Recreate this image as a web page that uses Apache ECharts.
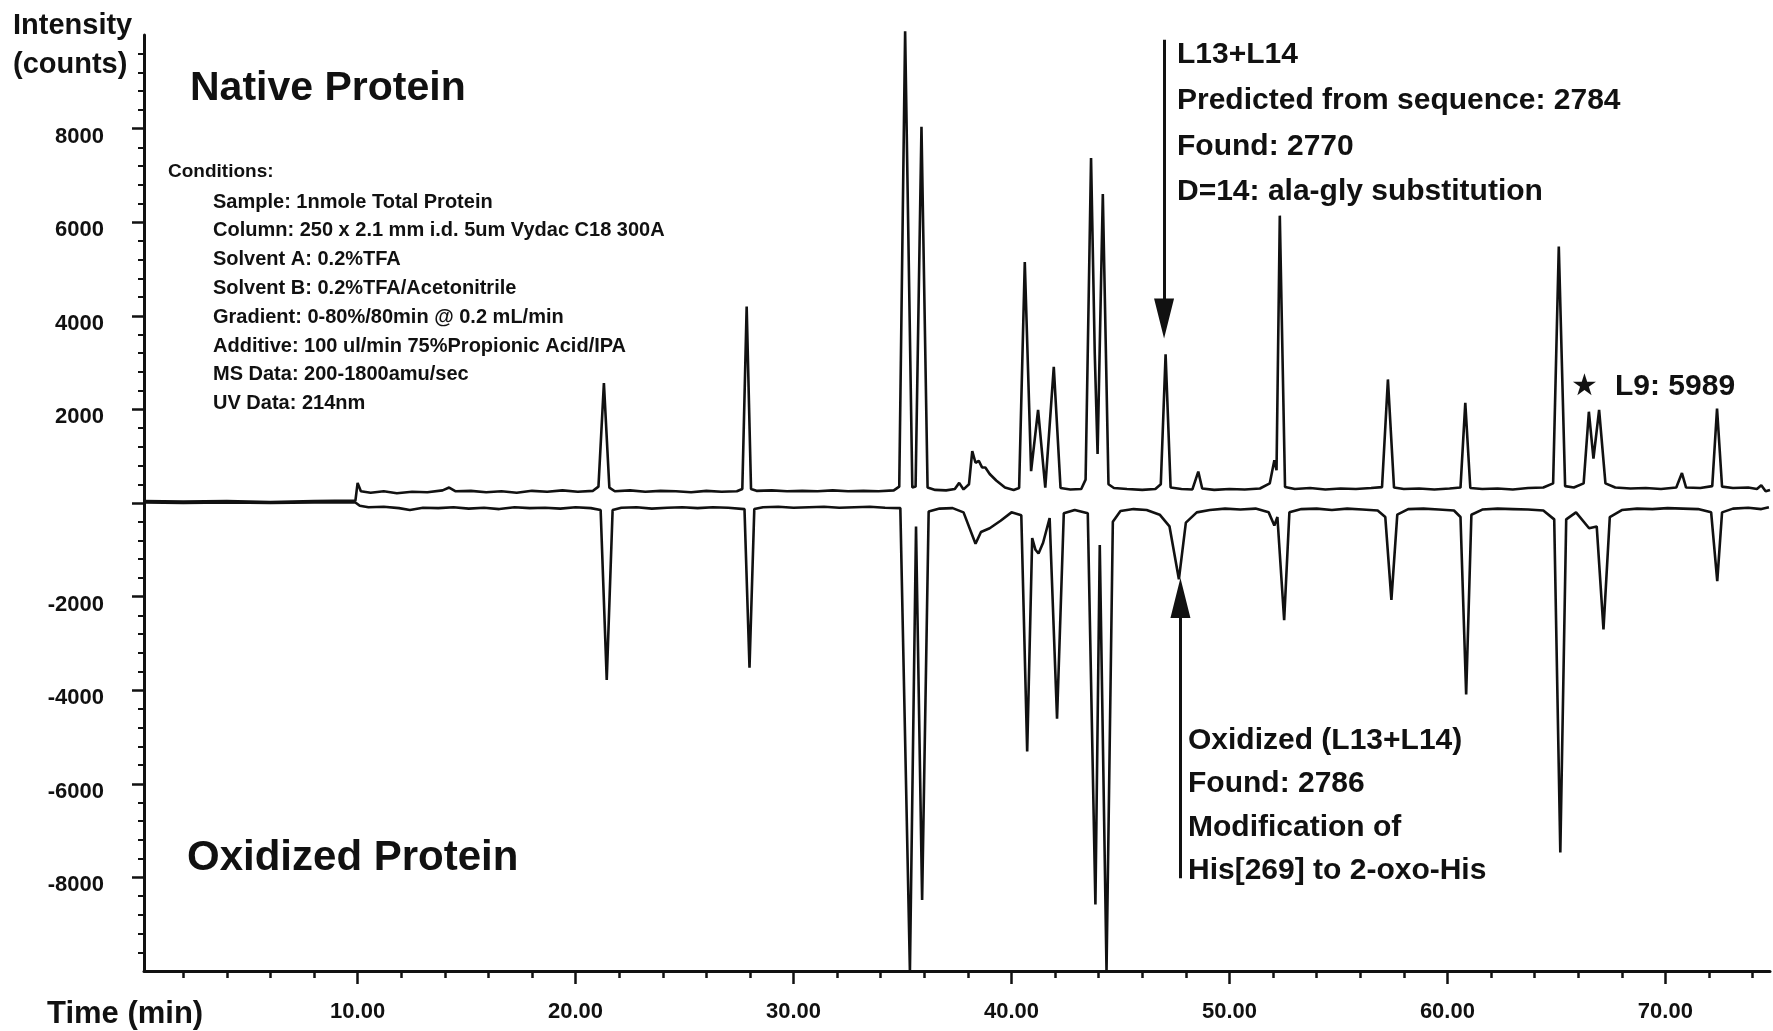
<!DOCTYPE html>
<html lang="en">
<head>
    <meta charset="UTF-8">
    <title>Native vs Oxidized Protein - LC/MS</title>
    <script src="https://cdn.jsdelivr.net/npm/echarts@6/dist/echarts.min.js"></script>
    <style>
        html, body { margin: 0; padding: 0; background: #ffffff; }
        #chart { width: 1773px; height: 1031px; }
    </style>
</head>
<body>
    <div id="chart"></div>
    <script>
        // time (min), intensity (counts)
        let nativeTrace = [
            [0.2, 40], [2, 30], [4, 40], [6, 20], [8, 40], [9.9, 50],
            [10.0, 430], [10.15, 250], [10.6, 220], [11.2, 250], [11.8, 210], [12.5, 240], [13.2, 230],
            [13.9, 270], [14.2, 330], [14.5, 250], [15.2, 260], [15.9, 230], [16.6, 250], [17.3, 220],
            [18.0, 260], [18.7, 240], [19.4, 270], [20.1, 240], [20.8, 260], [21.05, 350], [21.3, 2560],
            [21.55, 330], [21.8, 250], [22.5, 270], [23.2, 240], [23.9, 260], [24.6, 250], [25.3, 230],
            [26.0, 260], [26.7, 240], [27.4, 250], [27.65, 300], [27.85, 4200], [28.05, 300], [28.3, 260],
            [29.0, 270], [29.7, 250], [30.4, 260], [31.1, 250], [31.8, 270], [32.5, 250], [33.2, 260],
            [33.9, 250], [34.6, 270], [34.85, 350], [35.12, 10080], [35.45, 330], [35.6, 350], [35.87, 8040],
            [36.15, 330], [36.5, 280], [37.0, 270], [37.4, 300], [37.6, 430], [37.8, 290], [38.05, 400],
            [38.2, 1110], [38.35, 860], [38.5, 900], [38.65, 760], [38.8, 760], [39.0, 620], [39.3, 480],
            [39.7, 330], [40.1, 280], [40.35, 320], [40.61, 5150], [40.9, 680], [41.22, 1990], [41.55, 330],
            [41.94, 2910], [42.25, 320], [42.7, 290], [43.2, 300], [43.4, 500], [43.65, 7370], [43.82, 3200],
            [43.95, 1050], [44.19, 6600], [44.45, 400], [44.7, 320], [45.3, 300], [46.0, 280], [46.6, 300],
            [46.85, 400], [47.07, 3180], [47.3, 330], [47.8, 300], [48.3, 290], [48.57, 670], [48.75, 310],
            [49.3, 280], [50.0, 300], [50.7, 290], [51.4, 310], [51.85, 420], [52.06, 915], [52.16, 700],
            [52.31, 6140], [52.55, 340], [53.0, 300], [53.7, 320], [54.4, 290], [55.1, 310], [55.8, 300],
            [56.5, 320], [57.0, 340], [57.27, 2640], [57.55, 330], [58.0, 300], [58.7, 310], [59.4, 290],
            [60.1, 310], [60.6, 330], [60.82, 2140], [61.05, 320], [61.6, 300], [62.3, 310], [63.0, 290],
            [63.7, 320], [64.4, 330], [64.85, 420], [65.11, 5480], [65.4, 360], [65.8, 330], [66.25, 420],
            [66.49, 1950], [66.7, 950], [66.96, 1990], [67.25, 420], [67.7, 330], [68.4, 310], [69.1, 320],
            [69.8, 300], [70.5, 330], [70.76, 640], [70.95, 330], [71.6, 320], [72.15, 360], [72.37, 2020],
            [72.6, 350], [73.1, 320], [73.8, 330], [74.2, 300], [74.4, 380], [74.6, 250], [74.8, 280]
        ];

        let oxidizedTrace = [
            [0.2, 10], [2, 0], [4, 10], [6, 0], [8, 10], [9.9, 10],
            [10.1, -60], [10.5, -90], [11.2, -80], [11.9, -110], [12.4, -150], [13.0, -100], [13.7, -110],
            [14.4, -90], [15.1, -120], [15.8, -100], [16.5, -130], [17.2, -90], [17.9, -110], [18.6, -100],
            [19.3, -120], [20.0, -90], [20.7, -110], [21.15, -150], [21.43, -3780], [21.7, -150], [22.1, -100],
            [22.8, -90], [23.5, -120], [24.2, -100], [24.9, -90], [25.6, -110], [26.3, -90], [27.0, -100],
            [27.75, -130], [27.98, -3520], [28.2, -130], [28.6, -90], [29.3, -80], [30.0, -100], [30.7, -90],
            [31.4, -80], [32.1, -100], [32.8, -90], [33.5, -80], [34.2, -100], [34.9, -110], [35.34, -10000],
            [35.62, -500], [35.9, -8480], [36.2, -180], [36.7, -120], [37.3, -110], [37.8, -200], [38.35, -870],
            [38.6, -620], [39.0, -540], [39.5, -380], [40.0, -200], [40.45, -260], [40.72, -5310], [40.95, -750],
            [41.1, -1000], [41.24, -1080], [41.45, -850], [41.75, -320], [42.09, -4610], [42.4, -220], [42.9, -150],
            [43.5, -220], [43.85, -8580], [44.05, -900], [44.36, -10000], [44.65, -400], [45.0, -170], [45.6, -130],
            [46.2, -150], [46.8, -250], [47.25, -500], [47.68, -1630], [48.0, -420], [48.5, -200], [49.1, -150],
            [49.8, -120], [50.5, -140], [51.2, -120], [51.8, -200], [52.06, -480], [52.2, -300], [52.51, -2505],
            [52.75, -200], [53.3, -130], [54.0, -120], [54.7, -150], [55.4, -120], [56.1, -140], [56.8, -160],
            [57.15, -300], [57.43, -2070], [57.7, -250], [58.2, -130], [58.9, -120], [59.6, -140], [60.3, -160],
            [60.6, -300], [60.86, -4090], [61.1, -250], [61.6, -140], [62.3, -120], [63.0, -130], [63.7, -140],
            [64.4, -160], [64.9, -350], [65.18, -7470], [65.45, -350], [65.9, -200], [66.5, -540], [66.85, -500],
            [67.16, -2700], [67.45, -300], [68.0, -150], [68.7, -120], [69.4, -130], [70.1, -110], [70.8, -120],
            [71.5, -130], [72.1, -200], [72.38, -1670], [72.6, -200], [73.1, -120], [73.8, -100], [74.4, -130],
            [74.75, -90]
        ];

        let xLabelValues = [10, 20, 30, 40, 50, 60, 70];
        let xMinorTicks = [2, 4, 6, 8, 12, 14, 16, 18, 22, 24, 26, 28, 32, 34, 36, 38, 42, 44, 46, 48,
                           52, 54, 56, 58, 62, 64, 66, 68, 72, 74];
        let yTickValues = [-8000, -6000, -4000, -2000, 0, 2000, 4000, 6000, 8000];
        let yLabelValues = [-8000, -6000, -4000, -2000, 2000, 4000, 6000, 8000];

        // arrows: [start, end] in (min, counts)
        let nativeArrow = [[47.0, 9900], [47.0, 3940]];
        let oxidizedArrow = [[47.75, -8020], [47.75, -2030]];

        let conditionLines = [
            'Sample: 1nmole Total Protein',
            'Column: 250 x 2.1 mm i.d. 5um Vydac C18 300A',
            'Solvent A: 0.2%TFA',
            'Solvent B: 0.2%TFA/Acetonitrile',
            'Gradient: 0-80%/80min @ 0.2 mL/min',
            'Additive: 100 ul/min 75%Propionic Acid/IPA',
            'MS Data: 200-1800amu/sec',
            'UV Data: 214nm'
        ];
        let nativeNotes = ['L13+L14', 'Predicted from sequence: 2784', 'Found: 2770', 'D=14: ala-gly substitution'];
        let oxidizedNotes = ['Oxidized (L13+L14)', 'Found: 2786', 'Modification of', 'His[269] to 2-oxo-His'];

        const FONT = '"Liberation Sans", Arial, sans-serif';
        const INK = '#111';

        function txt(x, y, text, size) {
            return {
                type: 'text', x: x, y: y, silent: true,
                style: { text: text, font: 'bold ' + size + 'px ' + FONT, fill: INK, verticalAlign: 'middle' }
            };
        }

        let graphics = [
            txt(13, 26, 'Intensity', 29),
            txt(13, 65, '(counts)', 29),
            txt(190, 89, 'Native Protein', 41),
            txt(187, 858, 'Oxidized Protein', 42),
            txt(47, 1014, 'Time (min)', 31),
            txt(168, 172, 'Conditions:', 19)
        ];
        conditionLines.forEach(function (line, i) {
            graphics.push(txt(213, 202 + i * 28.8, line, 20));
        });
        nativeNotes.forEach(function (line, i) {
            graphics.push(txt(1177, 55 + i * 45.7, line, 30));
        });
        oxidizedNotes.forEach(function (line, i) {
            graphics.push(txt(1188, 741 + i * 43.2, line, 30));
        });
        graphics.push({
            type: 'text', x: 1571, y: 387, silent: true,
            style: { text: '★', font: '30px "DejaVu Sans", sans-serif', fill: INK, verticalAlign: 'middle' }
        });
        graphics.push(txt(1615, 387, 'L9: 5989', 30));

        let arrowLine = function (pts) {
            return {
                silent: true,
                animation: false,
                symbol: ['none', 'triangle'],
                symbolSize: [20, 40],
                label: { show: false },
                emphasis: { disabled: true },
                lineStyle: { color: INK, width: 3, type: 'solid' },
                data: [[{ coord: pts[0] }, { coord: pts[1] }]]
            };
        };

        let option = {
            backgroundColor: '#ffffff',
            animation: false,
            grid: { left: 144, right: 3, top: 35, bottom: 60, containLabel: false },
            xAxis: [
                {
                    type: 'value', min: 0.2, max: 74.8,
                    axisLine: { onZero: false, lineStyle: { color: INK, width: 3 } },
                    axisTick: { customValues: xLabelValues, length: 13, lineStyle: { color: INK, width: 2.5 } },
                    axisLabel: {
                        customValues: xLabelValues, margin: 30, color: INK,
                        fontFamily: FONT, fontWeight: 'bold', fontSize: 22,
                        formatter: function (v) { return v.toFixed(2); }
                    },
                    splitLine: { show: false }
                },
                {
                    type: 'value', min: 0.2, max: 74.8, position: 'bottom',
                    axisLine: { show: false, onZero: false },
                    axisTick: { customValues: xMinorTicks, length: 7, lineStyle: { color: INK, width: 2.5 } },
                    axisLabel: { show: false },
                    splitLine: { show: false }
                }
            ],
            yAxis: {
                type: 'value', min: -10000, max: 10000, interval: 2000,
                axisLine: { show: true, onZero: false, lineStyle: { color: INK, width: 3 } },
                axisTick: { customValues: yTickValues, length: 12, lineStyle: { color: INK, width: 2.5 } },
                minorTick: { show: true, splitNumber: 5, length: 6, lineStyle: { color: INK, width: 2 } },
                axisLabel: {
                    customValues: yLabelValues, margin: 40, color: INK,
                    fontFamily: FONT, fontWeight: 'bold', fontSize: 22,
                    verticalAlign: 'top', lineHeight: 16,
                    formatter: function (v) { return String(v); }
                },
                splitLine: { show: false }
            },
            series: [
                {
                    name: 'Native Protein', type: 'line', data: nativeTrace,
                    showSymbol: false, clip: false, silent: true,
                    lineStyle: { color: INK, width: 2.6 },
                    markLine: arrowLine(nativeArrow)
                },
                {
                    name: 'Oxidized Protein', type: 'line', data: oxidizedTrace,
                    showSymbol: false, clip: false, silent: true,
                    lineStyle: { color: INK, width: 2.6 },
                    markLine: arrowLine(oxidizedArrow)
                }
            ],
            graphic: graphics
        };

        let chart = echarts.init(document.getElementById('chart'));
        chart.setOption(option);
    </script>
</body>
</html>
